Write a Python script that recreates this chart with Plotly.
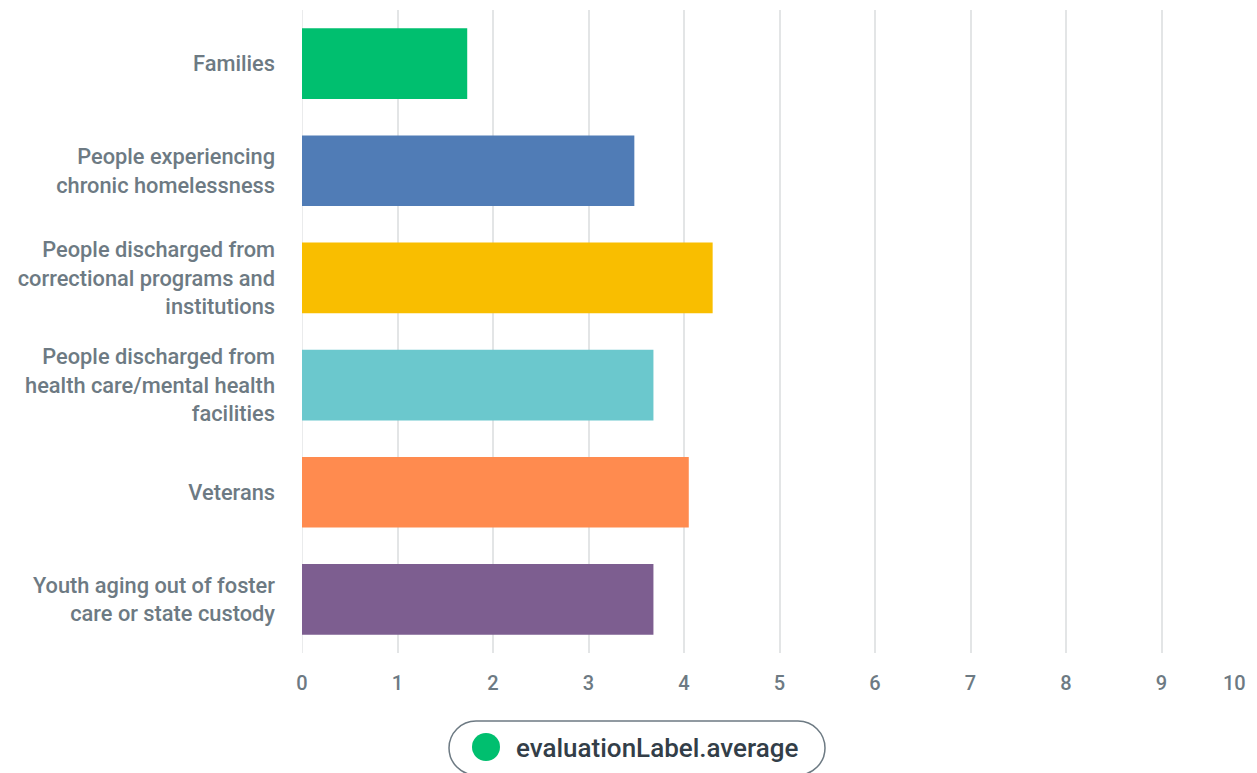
import plotly.graph_objects as go

categories = [
    "Families",
    "People experiencing<br>chronic homelessness",
    "People discharged from<br>correctional programs and<br>institutions",
    "People discharged from<br>health care/mental health<br>facilities",
    "Veterans",
    "Youth aging out of foster<br>care or state custody",
]
values = [1.73, 3.48, 4.30, 3.68, 4.05, 3.68]
colors = ["#00BF6F", "#507CB6", "#F9BE00", "#6BC8CD", "#FF8B4F", "#7D5E90"]
x_ticks = list(range(0, 11))
legend_label = "evaluationLabel.average"
legend_color = "#00BF6F"

OFF = 8  # page body margin
W, H = 1257 - OFF, 773 - OFF
L, R, T, B = 302, 1257, 10, 653  # screen pixel positions of the plot area

def xp(px):
    return (px - L) / (R - L)

def yp(py):
    return (B - py) / (B - T)

fig = go.Figure()
fig.add_trace(go.Bar(
    x=values, y=categories, orientation="h",
    marker=dict(color=colors, line=dict(width=0)),
    showlegend=False, hoverinfo="x+y",
))

font_family = "Roboto, Open Sans, sans-serif"
label_color = "#6D7A83"
xtick_size = 20

fig.update_layout(
    width=W, height=H,
    margin=dict(l=L - OFF, r=0, t=T - OFF, b=H - (B - OFF)),
    plot_bgcolor="white", paper_bgcolor="white",
    bargap=0.34,
    font=dict(family=font_family, color=label_color, size=20, weight=500),
    xaxis=dict(
        range=[0, 10], tickvals=x_ticks, ticktext=[str(t) for t in x_ticks],
        showgrid=True, gridcolor="#E3E5E6", gridwidth=1.5,
        zeroline=False, showline=False, ticks="",
        ticklabelstandoff=16,
        tickfont=dict(size=xtick_size, color=label_color, weight=500),
    ),
    yaxis=dict(
        autorange="reversed", showgrid=False, zeroline=False, showline=False,
        ticks="", ticklabelstandoff=26,
        tickfont=dict(size=21.8, color=label_color, weight=500),
    ),
    showlegend=False,
)

# the last x tick label sits on the page edge (plotly drops it), so place it explicitly
fig.add_annotation(xref="x", yref="paper", x=x_ticks[-1], y=yp(683),
                   xanchor="right", yanchor="middle", showarrow=False,
                   text=str(x_ticks[-1]), xshift=-9,
                   font=dict(family=font_family, size=xtick_size, color=label_color, weight=500))

# x=0 baseline
fig.add_shape(type="line", xref="x", yref="paper", x0=0, x1=0, y0=0, y1=1,
              line=dict(color="#E3E5E6", width=1.5), layer="below")

# legend pill
x1, x2, y1, y2, r = 449, 825, 721, 775, 27
k = 0.5523
path = (
    f"M {xp(x1 + r)} {yp(y1)} L {xp(x2 - r)} {yp(y1)} "
    f"C {xp(x2 - r + k * r)} {yp(y1)} {xp(x2)} {yp(y1 + r - k * r)} {xp(x2)} {yp(y1 + r)} "
    f"C {xp(x2)} {yp(y1 + r + k * r)} {xp(x2 - r + k * r)} {yp(y2)} {xp(x2 - r)} {yp(y2)} "
    f"L {xp(x1 + r)} {yp(y2)} "
    f"C {xp(x1 + r - k * r)} {yp(y2)} {xp(x1)} {yp(y1 + r + k * r)} {xp(x1)} {yp(y1 + r)} "
    f"C {xp(x1)} {yp(y1 + r - k * r)} {xp(x1 + r - k * r)} {yp(y1)} {xp(x1 + r)} {yp(y1)} Z"
)
fig.add_shape(type="path", xref="paper", yref="paper", path=path,
              line=dict(color=label_color, width=1.5), fillcolor="white")
cx, cy, cr = 486, 747, 14
fig.add_shape(type="circle", xref="paper", yref="paper",
              x0=xp(cx - cr), x1=xp(cx + cr), y0=yp(cy + cr), y1=yp(cy - cr),
              line=dict(width=0), fillcolor=legend_color)
fig.add_annotation(xref="paper", yref="paper", x=xp(514), y=yp(748),
                   xanchor="left", yanchor="middle", showarrow=False,
                   text=legend_label,
                   font=dict(family=font_family, size=26, color="#333E48", weight=500))

fig.write_html("out.html")
